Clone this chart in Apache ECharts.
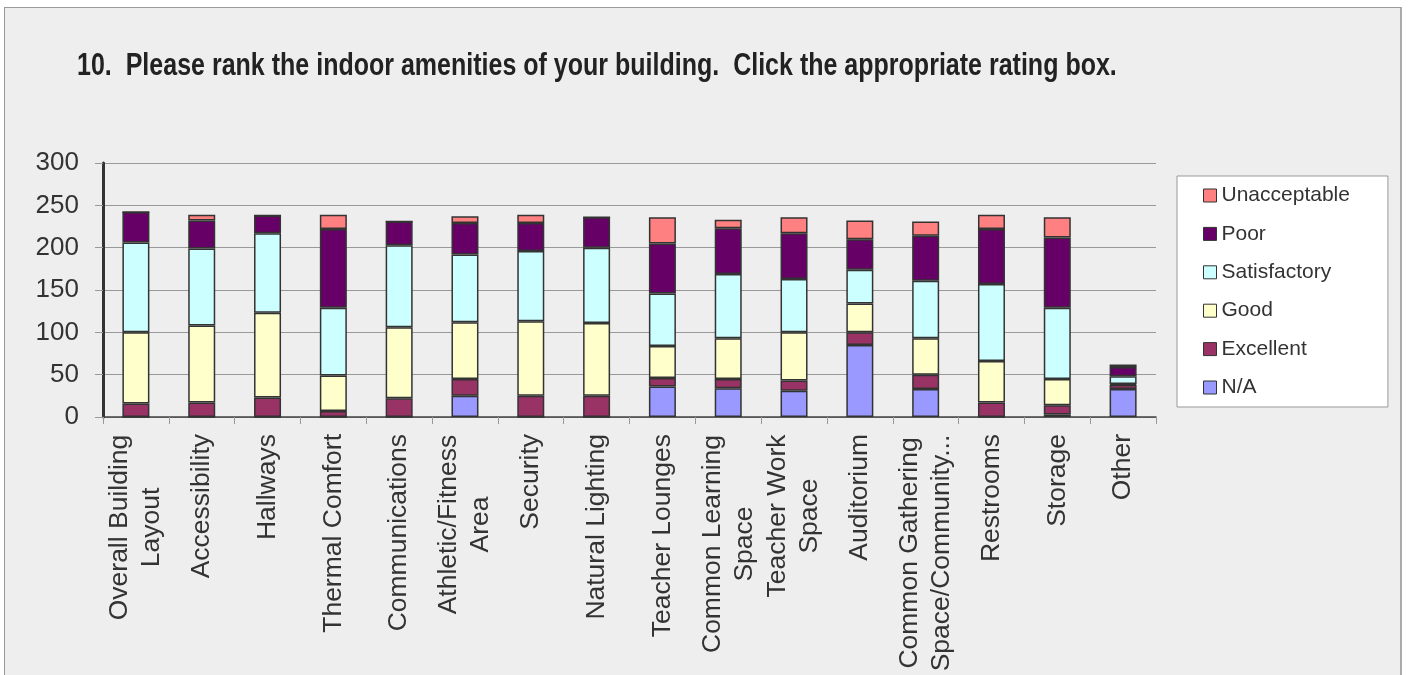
<!DOCTYPE html>
<html>
<head>
<meta charset="utf-8">
<script src="https://cdn.jsdelivr.net/npm/echarts@6/dist/echarts.min.js"></script>
<style>
html,body{margin:0;padding:0;background:#fff;width:1408px;height:675px;overflow:hidden;}
#panel{position:absolute;left:4px;top:7px;width:1395px;height:720px;background:#eeeeee;border:1px solid #9a9a9a;border-right:2px solid #aaa;}
#main{position:absolute;left:0;top:0;width:1408px;height:675px;}
</style>
</head>
<body>
<div id="panel"></div>
<div id="main"></div>
<script>
const titleText = '10.  Please rank the indoor amenities of your building.  Click the appropriate rating box.';
const categories = [
  'Overall Building\nLayout', 'Accessibility', 'Hallways', 'Thermal Comfort',
  'Communications', 'Athletic/Fitness\nArea', 'Security', 'Natural Lighting',
  'Teacher Lounges', 'Common Learning\nSpace', 'Teacher Work\nSpace', 'Auditorium',
  'Common Gathering\nSpace/Community...', 'Restrooms', 'Storage', 'Other'
];
const naValues           = [0, 0, 0, 0, 0, 25, 0, 0, 36, 34, 31, 85, 33, 0, 3, 33];
const excellentValues    = [16, 17, 23, 7, 22, 20, 25, 25, 10, 11, 12, 15, 17, 17, 11, 5];
const goodValues         = [84, 91, 100, 42, 84, 67, 88, 86, 38, 48, 57, 34, 43, 49, 31, 1];
const satisfactoryValues = [106, 91, 94, 80, 97, 80, 83, 89, 62, 76, 63, 40, 68, 91, 84, 9];
const poorValues         = [36, 33, 21, 93, 28, 37, 33, 36, 59, 54, 54, 36, 53, 65, 83, 11];
const unacceptableValues = [0, 7, 0, 17, 0, 8, 10, 0, 31, 10, 19, 22, 17, 17, 24, 3];
const yTicks = { min: 0, max: 300, interval: 50 };
const legendOrder = ['Unacceptable', 'Poor', 'Satisfactory', 'Good', 'Excellent', 'N/A'];

const seriesDefs = [
  ['N/A', naValues, '#9999FF'],
  ['Excellent', excellentValues, '#993366'],
  ['Good', goodValues, '#FFFFCC'],
  ['Satisfactory', satisfactoryValues, '#CCFFFF'],
  ['Poor', poorValues, '#660066'],
  ['Unacceptable', unacceptableValues, '#FF8080']
];

const FONT = "'Liberation Sans', Arial, sans-serif";
const LABEL_SIZE = 26.5;
const LABEL_COLOR = '#333';

// centre each line of a multi-line category label within its block
const ctx = document.createElement('canvas').getContext('2d');
ctx.font = LABEL_SIZE + "px 'Liberation Sans', Arial, sans-serif";
const rich = {};
categories.forEach((c, i) => {
  if (c.indexOf('\n') >= 0) {
    const w = Math.max(...c.split('\n').map(l => ctx.measureText(l).width));
    rich['c' + i] = {
      width: Math.ceil(w) + 1, align: 'center',
      fontFamily: FONT, fontSize: LABEL_SIZE, lineHeight: 32, color: LABEL_COLOR
    };
  }
});

const chart = echarts.init(document.getElementById('main'), null, { renderer: 'canvas' });
chart.setOption({
  backgroundColor: 'transparent',
  animation: false,
  graphic: [{
    type: 'text',
    left: 77,
    top: 51,
    scaleX: 0.807,
    style: {
      text: titleText,
      font: "bold 31px 'Liberation Sans', Arial, sans-serif",
      fill: '#222'
    }
  }],
  grid: { left: 103, right: 252, top: 163, bottom: 256, containLabel: false },
  legend: {
    orient: 'vertical',
    left: 1177,
    top: 176,
    data: legendOrder,
    backgroundColor: '#ffffff',
    borderColor: '#999',
    borderWidth: 1,
    borderRadius: 0,
    padding: [9, 38, 9, 26],
    itemWidth: 13,
    itemHeight: 13,
    itemGap: 17.4,
    icon: 'rect',
    itemStyle: { borderColor: '#333', borderWidth: 1 },
    textStyle: { fontFamily: FONT, fontSize: 21, color: '#333', lineHeight: 21 }
  },
  xAxis: {
    type: 'category',
    data: categories,
    axisLine: { show: true, lineStyle: { color: '#444', width: 1.5 } },
    axisTick: { show: true, length: 7, lineStyle: { color: '#999', width: 1 } },
    axisLabel: {
      rotate: 90,
      interval: 0,
      margin: 17,
      fontFamily: FONT,
      fontSize: LABEL_SIZE,
      lineHeight: 32,
      color: LABEL_COLOR,
      rich: rich,
      formatter: function (value, idx) {
        if (value.indexOf('\n') < 0) return value;
        const i = categories.indexOf(value);
        return value.split('\n').map(l => '{c' + i + '|' + l + '}').join('\n');
      }
    }
  },
  yAxis: {
    type: 'value',
    min: yTicks.min,
    max: yTicks.max,
    interval: yTicks.interval,
    axisLine: { show: true, lineStyle: { color: '#333', width: 3 } },
    axisTick: { show: true, length: 8, lineStyle: { color: '#999', width: 1 } },
    splitLine: { show: true, lineStyle: { color: '#999', width: 1.2 } },
    axisLabel: { margin: 24, fontFamily: FONT, fontSize: 26, color: '#333' }
  },
  series: seriesDefs.map(([name, values, color]) => ({
    name,
    type: 'bar',
    stack: 'total',
    data: values,
    barWidth: 27,
    itemStyle: { color, borderColor: '#333', borderWidth: 1.5 }
  }))
});
</script>
</body>
</html>
